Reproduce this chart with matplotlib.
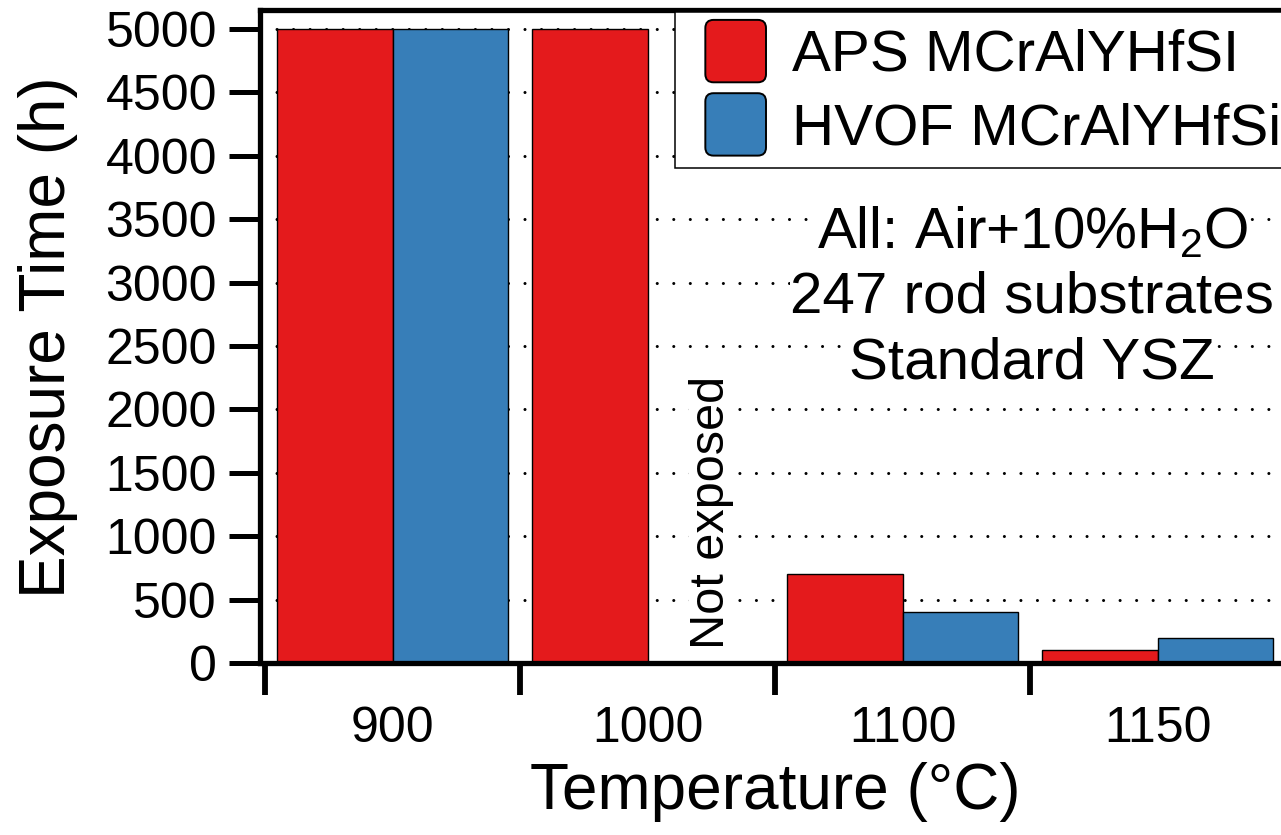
import matplotlib
matplotlib.use("Agg")
import matplotlib.pyplot as plt
import numpy as np
from matplotlib.container import BarContainer
from matplotlib.legend_handler import HandlerPatch
from matplotlib.patches import FancyBboxPatch

# data
temperatures = ["900", "1000", "1100", "1150"]
aps_hours = [5000, 5000, 700, 100]
hvof_hours = [5000, np.nan, 400, 200]  # 1000 C: not exposed
series_labels = ["APS MCrAlYHfSI", "HVOF MCrAlYHfSi"]
ytick_values = list(range(0, 5001, 500))
note_lines = [r"All: Air+10%H$_2$O", "247 rod substrates", "Standard YSZ"]

RED = "#E41A1C"
BLUE = "#377EB8"

plt.rcParams["font.family"] = "Liberation Sans"
plt.rcParams["mathtext.fontset"] = "custom"
plt.rcParams["mathtext.rm"] = "Liberation Sans"
plt.rcParams["mathtext.it"] = "Liberation Sans:italic"
plt.rcParams["mathtext.bf"] = "Liberation Sans:bold"


class RoundBoxHandler(HandlerPatch):
    """Rounded square legend key, drawn at the right of the handle area."""

    def create_artists(self, legend, orig_handle, xdescent, ydescent,
                       width, height, fontsize, trans):
        src = orig_handle.patches[0] if isinstance(orig_handle, BarContainer) else orig_handle
        bw, bh = 1.04 * fontsize, 1.07 * fontsize
        r = 0.14 * fontsize
        x0 = -xdescent + width - bw
        y0 = -ydescent + (height - bh) / 2
        p = FancyBboxPatch((x0 + r, y0 + r), bw - 2 * r, bh - 2 * r,
                           boxstyle=f"round,pad={r},rounding_size={r}",
                           facecolor=src.get_facecolor(), edgecolor="black",
                           linewidth=1.4, transform=trans)
        return [p]


W, H = 1281, 835
fig = plt.figure(figsize=(W / 100, H / 100), dpi=100)
ax = fig.add_axes([260 / W, (H - 663) / H, 1025 / W, 653 / H])

x = np.arange(len(temperatures))
bw = 0.453
b_aps = ax.bar(x - bw / 2, aps_hours, bw, color=RED, edgecolor="black", linewidth=1.0)
b_hvof = ax.bar(x + bw / 2, hvof_hours, bw, color=BLUE, edgecolor="black", linewidth=1.0)

ax.set_xlim(-0.52, 3.5)
ax.set_ylim(0, 5000 * 653 / 634)

# dotted horizontal grid behind the bars
ax.set_axisbelow(True)
ax.yaxis.grid(True, color="black", linewidth=2.2, linestyle=(0, (0.01, 5.4)),
              dash_capstyle="round")

for sp in ax.spines.values():
    sp.set_linewidth(3.8)

ax.set_yticks(ytick_values)
ax.set_yticklabels([str(v) for v in ytick_values])
ax.tick_params(axis="y", direction="out", length=22, width=3.6, labelsize=36, pad=9)

# group boundaries as major ticks, category names on minor ticks
ax.set_xticks(np.arange(-0.5, len(temperatures), 1.0))
ax.set_xticklabels([])
ax.set_xticks(x, minor=True)
ax.set_xticklabels(temperatures, minor=True)
ax.tick_params(axis="x", which="major", direction="out", length=23, width=4.2)
ax.tick_params(axis="x", which="minor", length=0, labelsize=36, pad=31)

ax.set_xlabel("Temperature (°C)", fontsize=46)
ax.xaxis.set_label_coords(775 / W, 1 - 762 / H, transform=fig.transFigure)
ax.set_ylabel("Exposure Time (h)", fontsize=46)
ax.yaxis.set_label_coords(78 / W, 1 - 337 / H, transform=fig.transFigure)

white = dict(facecolor="white", edgecolor="none", pad=0)
ax.text(1.25, 1190, "Not exposed", rotation=90, ha="center", va="center",
        fontsize=35, bbox=white)

note_baselines = [3270, 2765, 2245]
for line, yb in zip(note_lines, note_baselines):
    ax.text(2.508, yb, line, ha="center", va="baseline", fontsize=42, bbox=white)

leg = ax.legend([b_aps, b_hvof], series_labels, loc="upper left",
                bbox_to_anchor=(675 / W, 1 - 12 / H), bbox_transform=fig.transFigure,
                fontsize=42, frameon=True, fancybox=False, edgecolor="black",
                framealpha=1, borderaxespad=0, borderpad=0.2,
                handlelength=1.36, handleheight=1.07, handletextpad=0.45,
                labelspacing=0.24, handler_map={BarContainer: RoundBoxHandler()})
leg.get_frame().set_linewidth(1.1)

fig.savefig("out.png", dpi=100)
